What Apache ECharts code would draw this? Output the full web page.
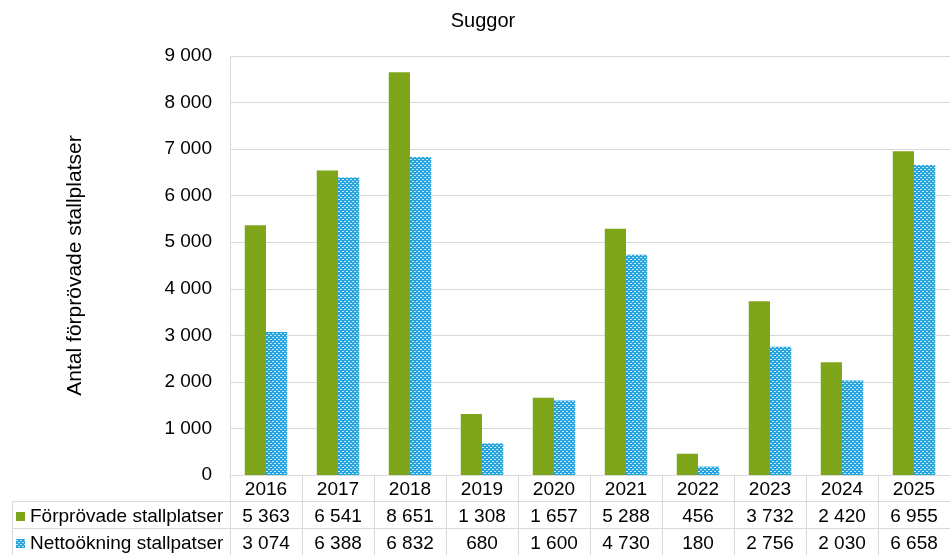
<!DOCTYPE html>
<html>
<head>
<meta charset="utf-8">
<script src="https://cdn.jsdelivr.net/npm/echarts@6/dist/echarts.min.js"></script>
<style>
  html, body { margin: 0; padding: 0; background: #fff; }
  #main { width: 950px; height: 555px; }
</style>
</head>
<body>
<div id="main"></div>
<script>
const years = ["2016", "2017", "2018", "2019", "2020", "2021", "2022", "2023", "2024", "2025"];
const forprovade = [5363, 6541, 8651, 1308, 1657, 5288, 456, 3732, 2420, 6955];
const nettookning = [3074, 6388, 6832, 680, 1600, 4730, 180, 2756, 2030, 6658];
const yTicks = [0, 1000, 2000, 3000, 4000, 5000, 6000, 7000, 8000, 9000];

const FONT = "Liberation Sans, Arial, sans-serif";
const GRID_LINE = "#d9d9d9";
const FS = 19;

// swedish style: 9 000
function fmt(v) {
  return String(v).replace(/\B(?=(\d{3})+(?!\d))/g, " ");
}

// dotted blue fill like the excel pattern
function makePattern() {
  const c = document.createElement("canvas");
  c.width = 4;
  c.height = 4;
  const ctx = c.getContext("2d");
  ctx.fillStyle = "#27a3de";
  ctx.fillRect(0, 0, 4, 4);
  ctx.fillStyle = "#c4e8f8";
  ctx.fillRect(0, 1, 2, 1);
  ctx.fillRect(2, 3, 2, 1);
  return c;
}

const chart = echarts.init(document.getElementById("main"), null, { renderer: "canvas" });

const valueByYear = (arr) => (val, idx) => fmt(arr[idx]);

const legendBase = {
  orient: "vertical",
  left: 16,
  padding: 0,
  icon: "rect",
  itemWidth: 9,
  itemHeight: 9,
  itemGap: 4,
  textStyle: { fontFamily: FONT, fontSize: FS, color: "#000" },
};

const option = {
  animation: false,
  textStyle: { fontFamily: FONT },
  title: {
    text: "Suggor",
    left: 478,
    top: 6,
    textAlign: "center",
    textStyle: { fontFamily: FONT, fontSize: 20, fontWeight: "normal", color: "#000" },
  },
  legend: [
    Object.assign({}, legendBase, { top: 507, data: ["Förprövade stallplatser"] }),
    Object.assign({}, legendBase, { top: 534, data: ["Nettoökning stallpatser"] }),
  ],
  grid: {
    left: 230,
    top: 56,
    width: 734,
    height: 419,
    containLabel: false,
  },
  xAxis: [
    {
      type: "category",
      position: "bottom",
      data: years,
      axisLine: { show: true, lineStyle: { color: GRID_LINE } },
      axisTick: { show: true, length: 80, lineStyle: { color: GRID_LINE } },
      axisLabel: { fontFamily: FONT, fontSize: FS, color: "#000", margin: 5 },
    },
    {
      type: "category",
      position: "bottom",
      data: years,
      axisLine: { show: false },
      axisTick: { show: false },
      axisLabel: { fontFamily: FONT, fontSize: FS, color: "#000", margin: 32, formatter: valueByYear(forprovade) },
    },
    {
      type: "category",
      position: "bottom",
      data: years,
      axisLine: { show: false },
      axisTick: { show: false },
      axisLabel: { fontFamily: FONT, fontSize: FS, color: "#000", margin: 59, formatter: valueByYear(nettookning) },
    },
  ],
  yAxis: {
    type: "value",
    min: yTicks[0],
    max: yTicks[yTicks.length - 1],
    interval: 1000,
    name: "Antal förprövade stallplatser",
    nameLocation: "middle",
    nameGap: 144,
    nameTextStyle: { fontFamily: FONT, fontSize: 21, color: "#000" },
    axisLine: { show: true, lineStyle: { color: GRID_LINE } },
    axisTick: { show: false },
    splitLine: { lineStyle: { color: GRID_LINE } },
    axisLabel: { fontFamily: FONT, fontSize: FS, color: "#000", margin: 18, formatter: fmt },
  },
  series: [
    {
      name: "Förprövade stallplatser",
      type: "bar",
      data: forprovade,
      barGap: 0,
      barCategoryGap: "41%",
      itemStyle: { color: "#7fa51a" },
    },
    {
      name: "Nettoökning stallpatser",
      type: "bar",
      data: nettookning,
      itemStyle: { color: { image: makePattern(), repeat: "repeat" } },
    },
  ],
  // table lines for the left label column and the row separators
  graphic: [
    { type: "line", shape: { x1: 12, y1: 501.5, x2: 964, y2: 501.5 }, style: { stroke: GRID_LINE, lineWidth: 1 } },
    { type: "line", shape: { x1: 12, y1: 528.5, x2: 964, y2: 528.5 }, style: { stroke: GRID_LINE, lineWidth: 1 } },
    { type: "line", shape: { x1: 12.5, y1: 501, x2: 12.5, y2: 555 }, style: { stroke: GRID_LINE, lineWidth: 1 } },
  ],
};

chart.setOption(option);
</script>
</body>
</html>
